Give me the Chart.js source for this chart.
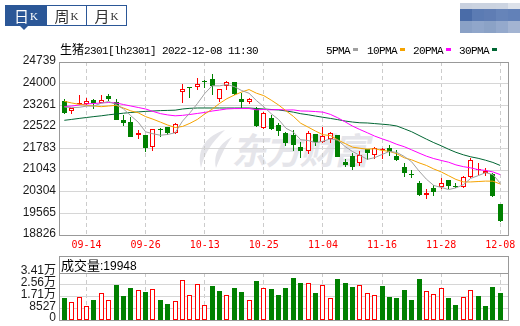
<!DOCTYPE html>
<html><head><meta charset="utf-8">
<script src="https://cdn.jsdelivr.net/npm/chart.js@4.4.0/dist/chart.umd.min.js"></script>
<style>
html,body{margin:0;padding:0;background:#fff;}
#root{position:relative;width:520px;height:326px;overflow:hidden;background:#fff;}
.abs{position:absolute;}
canvas{position:absolute;left:0;}
.tabs{left:5px;top:5px;height:21px;width:122px;border:1px solid #2b5797;box-sizing:border-box;display:flex;}
.tab{width:40px;height:100%;display:flex;align-items:center;justify-content:center;color:#333;box-sizing:border-box;}
.tab+.tab{border-left:1px solid #2b5797;}
.tab.sel{background:#2b5797;color:#fff;}
.tab .c{font-family:'Noto Sans CJK SC';font-size:15px;line-height:1;}
.tab .k{font-family:'Liberation Serif';font-size:11px;line-height:1;margin-left:1px;margin-top:2px;}
.tri{left:20px;top:26px;width:0;height:0;border-left:4px solid transparent;border-right:4px solid transparent;border-top:4px solid #2b5797;}
.mono{font-family:'Liberation Mono',monospace;font-size:11px;letter-spacing:-0.6px;color:#000;}
.cjk{font-family:'Noto Sans CJK SC';color:#000;}
.lg{top:42px;height:14px;line-height:14px;white-space:nowrap;}
.sw{display:inline-block;width:5px;height:3px;margin-left:3px;vertical-align:middle;position:relative;top:-1px;}
#pix{left:460px;top:3px;width:60px;display:grid;grid-template-columns:repeat(5,12px);grid-template-rows:6px 12px 12px;}
#wm{left:193px;top:124px;white-space:nowrap;}
</style>
</head><body>
<div id="root">
  <div id="wm" class="abs">
    <svg width="42" height="40" viewBox="0 0 42 40" style="position:absolute;left:0;top:5px">
      <path d="M32 1 C15 6 3 19 8 39 C11 25 19 13 32 1Z" fill="#e4e4e9"/>
      <path d="M39 8 C27 14 20 25 23 39 C27 29 31 19 39 8Z" fill="#e4e4e9"/>
    </svg>
    <div style="position:absolute;left:42px;top:0;font-family:'Noto Sans CJK SC';font-weight:700;font-size:36px;line-height:48px;color:#e5e5ea;transform:skewX(-12deg);letter-spacing:-2px">东方财富</div>
  </div>
  <canvas id="cMain" width="520" height="256" style="top:0"></canvas>
  <canvas id="cVol" width="520" height="80" style="top:256px"></canvas>

  <div class="abs tabs">
    <div class="tab sel"><span class="c">日</span><span class="k">K</span></div>
    <div class="tab"><span class="c">周</span><span class="k">K</span></div>
    <div class="tab"><span class="c">月</span><span class="k">K</span></div>
  </div>
  <div class="abs tri"></div>
  <div id="pix" class="abs">
    <div style="background:#c9d1df"></div><div style="background:#cbd3e0"></div><div style="background:#cbd3e0"></div><div style="background:#ccd4e1"></div><div style="background:#dde2ea"></div>
    <div style="background:#4a6ca8"></div><div style="background:#5b7bb3"></div><div style="background:#5f7db4"></div><div style="background:#6684b9"></div><div style="background:#6281b8"></div>
    <div style="background:#8aa1c6"></div><div style="background:#90a6ca"></div><div style="background:#8ba2c6"></div><div style="background:#94a9cc"></div><div style="background:#a3b4d2"></div>
  </div>
  <div class="abs lg" style="left:60px"><span class="cjk" style="font-size:12px">生猪</span><span class="mono">2301[lh2301] 2022-12-08 11:30</span></div>
  <div class="abs lg" style="left:326px"><span class="mono">5PMA</span><span class="sw" style="background:#a0a0a0"></span></div>
  <div class="abs lg" style="left:367px"><span class="mono">10PMA</span><span class="sw" style="background:#f5a300"></span></div>
  <div class="abs lg" style="left:413px"><span class="mono">20PMA</span><span class="sw" style="background:#ff00ff"></span></div>
  <div class="abs lg" style="left:459px"><span class="mono">30PMA</span><span class="sw" style="background:#006633"></span></div>
  <div class="abs" style="left:61px;top:257px;height:16px;line-height:16px;white-space:nowrap"><span class="cjk" style="font-size:13px">成交量</span><span style="font-family:'Liberation Sans';font-size:12px;color:#000">:19948</span></div>
</div>
<script>
const dates = ['09-08','09-09','09-13','09-14','09-15','09-16','09-19','09-20','09-21','09-22',
  '09-23','09-26','09-27','09-28','09-29','09-30','10-10','10-11','10-12','10-13',
  '10-14','10-17','10-18','10-19','10-20','10-21','10-24','10-25','10-26','10-27',
  '10-28','10-31','11-01','11-02','11-03','11-04','11-07','11-08','11-09','11-10',
  '11-11','11-14','11-15','11-16','11-17','11-18','11-21','11-22','11-23','11-24',
  '11-25','11-28','11-29','11-30','12-01','12-02','12-05','12-06','12-07','12-08'];
const opens = [23410,23050,23295,23310,23450,23340,23590,23375,22757,22689,
  22245,22245,21823,22438,22518,22324,23703,23862,23873,24090,
  24147,23486,23930,24044,23486,23361,23122,22495,22814,22586,
  22324,22245,21846,21698,22279,22017,22108,22245,21333,21527,
  21276,21755,21561,21732,21812,21538,21140,20900,20593,20183,
  20445,20479,20707,20513,20479,20798,21049,20935,20900,19887];
const highs = [23470,23170,23600,23500,23475,23620,23650,23465,22928,22848,
  22415,22245,22460,22495,22518,22643,23987,23880,24181,24120,
  24329,23830,24101,24044,23691,23520,23213,23030,22928,22643,
  22340,22415,22017,22381,22290,22506,22358,22250,21424,21641,
  21698,21770,21823,21789,21903,21732,21276,21049,20673,20388,
  20536,20764,20720,20593,20843,21447,21276,21106,20935,19900];
const lows = [22975,22950,23270,23270,23140,23330,23400,22760,22563,22188,
  22097,21675,21709,22165,22233,22279,23326,23520,23782,23862,
  23600,23383,23782,23620,23156,23292,22529,22450,22415,22210,
  21869,21709,21470,21595,21869,21960,21960,21490,21163,21049,
  21185,21390,21424,21413,21538,21356,20821,20787,20160,20069,
  20160,20388,20388,20422,20445,20790,20878,20855,20137,19283];
const closes = [22990,23160,23320,23400,23350,23430,23465,22760,22666,22188,
  22324,21812,22438,22415,22324,22609,23816,23839,23987,24056,
  23930,23805,24067,23634,23383,23463,22552,23008,22450,22393,
  21960,21903,21698,22324,22017,22210,22302,21500,21219,21163,
  21561,21618,21789,21766,21675,21390,20935,20878,20194,20274,
  20308,20616,20502,20479,20821,21390,21071,21026,20160,19317];
const volumes = [16060,13140,16570,10220,14600,19490,14600,25550,17520,23360,
  21900,20440,22400,14600,11680,13870,29200,18010,26280,10710,
  24820,21170,18010,23360,20440,14600,28470,23140,22630,18250,
  23360,30660,27010,27010,19710,25550,15820,29930,27010,24090,
  25550,19710,18250,24820,16790,16060,21900,14600,29930,21170,
  18980,23140,16060,10950,16570,21680,17520,10220,24090,19948];
const ma5 = [23200,23180,23190,23230,23234,23331,23391,23283,23135,22903,
  22682,22352,22286,22235,22263,22320,22720,23001,23315,23661,
  23926,23923,23969,23898,23764,23670,23420,23208,22971,22773,
  22473,22343,22081,22056,21980,22030,22110,22070,21850,21678,
  21550,21412,21470,21579,21682,21648,21511,21329,21014,20734,
  20518,20454,20379,20436,20545,20762,20853,20957,20894,20593];
const ma10 = [23396,23338,23293,23259,23235,23212,23235,23259,23167,23069,
  23003,22872,22784,22685,22583,22501,22536,22643,22775,22962,
  23123,23322,23485,23607,23713,23798,23672,23589,23435,23269,
  23072,22881,22644,22513,22377,22252,22227,22076,21952,21829,
  21790,21761,21774,21718,21684,21602,21465,21395,21293,21204,
  21083,20983,20854,20725,20640,20640,20653,20668,20665,20569];
const ma20 = [23218,23235,23269,23303,23321,23338,23355,23338,23286,23235,
  23184,23133,23050,22975,22930,22900,22915,22945,22980,23015,
  23063,23097,23135,23146,23148,23149,23104,23116,23105,23115,
  23097,23102,23065,23060,23045,23025,22949,22832,22694,22549,
  22431,22321,22207,22114,22028,21925,21844,21737,21627,21521,
  21438,21374,21314,21222,21162,21121,21059,21034,20981,20889];
const ma30 = [22746,22777,22811,22842,22873,22900,22934,22962,22989,23013,
  23033,23051,23064,23078,23085,23092,23133,23156,23167,23167,
  23167,23167,23167,23167,23167,23167,23150,23133,23116,23100,
  23066,23025,22971,22935,22891,22850,22811,22769,22721,22687,
  22662,22655,22634,22613,22591,22551,22455,22356,22229,22103,
  21983,21876,21757,21652,21567,21498,21448,21382,21306,21203];
const priceTicks = [18826,19565,20304,21043,21783,22522,23261,24000,24739];
const volTicks = [0,8527,17054,25581,34108];
const dateTicks = ['09-14','09-26','10-13','10-25','11-04','11-16','11-28','12-08'];

const RED = '#ff0000', GREEN = '#008000';
const tickIdx = dateTicks.map(d => dates.indexOf(d));
const candleUp = closes.map((c, i) => c > opens[i]);
const volUp = closes.map((c, i) => i > 0 && c > closes[i - 1]);
const XMIN = -0.72, XMAX = 60.18;

const snapPlugin = {
  id: 'snap',
  afterDatasetsUpdate(chart) {
    chart.data.datasets.forEach((ds, i) => {
      const meta = chart.getDatasetMeta(i);
      if (meta.type !== 'bar') return;
      meta.data.forEach(el => {
        el.x = Math.floor(el.x) + 0.5;
        let y = Math.round(el.y), b = Math.round(el.base);
        if (Math.abs(y - b) < 1) b = y + 1;
        el.y = y; el.base = b;
      });
    });
  }
};
function framePlugin(withHeader) {
  return {
    id: 'frame',
    afterDraw(chart) {
      const { ctx, chartArea: a } = chart;
      ctx.save();
      ctx.strokeStyle = '#999999';
      ctx.lineWidth = 1;
      const l = Math.round(a.left) + 0.5, r = Math.round(a.right) - 0.5;
      const t = Math.round(a.top) + 0.5, b = Math.round(a.bottom) + 0.5;
      if (withHeader) {
        ctx.strokeRect(l, 0.5, r - l, b - 0.5);
        ctx.beginPath(); ctx.moveTo(l, t); ctx.lineTo(r, t); ctx.stroke();
      } else {
        ctx.strokeRect(l, t, r - l, b - t);
      }
      ctx.restore();
    }
  };
}
const xCommon = (showLabels, h) => ({
  type: 'linear', min: XMIN, max: XMAX, offset: false, bounds: 'ticks',
  afterBuildTicks(s) { s.ticks = tickIdx.map(v => ({ value: v })); },
  afterFit(s) { s.height = h; },
  grid: { color: '#cccccc', lineWidth: 1, drawTicks: false, offset: false },
  border: { display: false, dash: [4, 3] },
  ticks: {
    display: showLabels, autoSkip: false, maxRotation: 0, minRotation: 0, padding: 4,
    color: RED, font: { family: "'DejaVu Sans Mono', monospace", size: 10 },
    callback: v => dates[v]
  }
});

const pt = arr => arr.map((v, i) => ({ x: i, y: v }));
const maLine = (arr, color, order) => ({
  type: 'line', data: pt(arr), borderColor: color, borderWidth: 1,
  pointRadius: 0, tension: 0, fill: false, order
});

new Chart(document.getElementById('cMain'), {
  type: 'bar',
  data: {
    datasets: [
      { data: lows.map((l, i) => ({ x: i, y: [l, highs[i]] })),
        backgroundColor: candleUp.map(u => u ? RED : GREEN),
        barThickness: 1, grouped: false, borderWidth: 0, inflateAmount: 0, order: 10 },
      { data: opens.map((o, i) => ({ x: i, y: [o, closes[i]] })),
        backgroundColor: candleUp.map(u => u ? '#ffffff' : GREEN),
        borderColor: candleUp.map(u => u ? RED : GREEN),
        borderWidth: candleUp.map(u => u ? 1 : 0),
        borderSkipped: false, barThickness: 5, minBarLength: 1,
        grouped: false, inflateAmount: 0, order: 9 },
      maLine(ma30, '#006633', 4),
      maLine(ma20, '#ff00ff', 3),
      maLine(ma10, '#f5a300', 2),
      maLine(ma5, '#a0a0a0', 1)
    ]
  },
  options: {
    responsive: false, animation: false, events: [],
    layout: { padding: { top: 62, right: 11, left: 0, bottom: 0 } },
    plugins: { legend: { display: false }, tooltip: { enabled: false } },
    scales: {
      x: xCommon(true, 21),
      y: {
        min: 18826, max: 24739,
        afterBuildTicks(s) { s.ticks = priceTicks.map(v => ({ value: v })); },
        afterFit(s) { s.width = 59; },
        grid: { color: '#d6d6d6', drawTicks: false },
        border: { display: false },
        ticks: { autoSkip: false, padding: 3, labelOffset: -1, color: '#1a1a1a',
          font: { family: "'Liberation Sans', sans-serif", size: 12 },
          callback: v => String(v) }
      }
    }
  },
  plugins: [snapPlugin, framePlugin(false)]
});

new Chart(document.getElementById('cVol'), {
  type: 'bar',
  data: {
    datasets: [
      { data: volumes.map((v, i) => ({ x: i, y: v })),
        backgroundColor: volUp.map(u => u ? '#ffffff' : GREEN),
        borderColor: volUp.map(u => u ? RED : GREEN),
        borderWidth: volUp.map(u => u ? 1 : 0),
        borderSkipped: false, barThickness: 5, grouped: false, inflateAmount: 0 }
    ]
  },
  options: {
    responsive: false, animation: false, events: [],
    layout: { padding: { top: 17, right: 11, left: 0, bottom: 0 } },
    plugins: { legend: { display: false }, tooltip: { enabled: false } },
    scales: {
      x: xCommon(false, 16),
      y: {
        min: 0, max: 34108,
        afterBuildTicks(s) { s.ticks = volTicks.map(v => ({ value: v })); },
        afterFit(s) { s.width = 59; },
        grid: { color: '#d6d6d6', drawTicks: false },
        border: { display: false },
        ticks: { autoSkip: false, padding: 3, labelOffset: -2, color: '#1a1a1a',
          font: { family: "'Liberation Sans', 'Noto Sans CJK SC', sans-serif", size: 12, lineHeight: 1 },
          callback: v => v >= 10000 ? (v / 10000).toFixed(2) + '万' : String(v) }
      }
    }
  },
  plugins: [snapPlugin, framePlugin(true)]
});
</script>
</body></html>
